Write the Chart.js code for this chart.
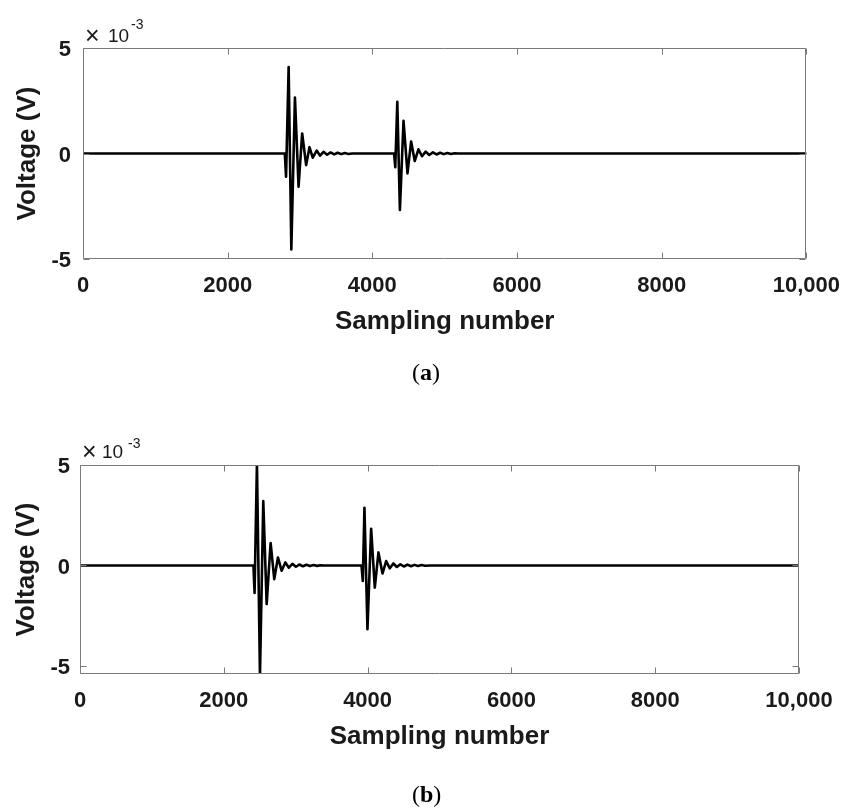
<!DOCTYPE html>
<html>
<head>
<meta charset="utf-8">
<script src="https://cdn.jsdelivr.net/npm/chart.js@4"></script>
<style>
body{margin:0;background:#fff;width:854px;height:808px;position:relative;overflow:hidden}
canvas{position:absolute;left:0}
.t{position:absolute;line-height:1;white-space:nowrap;color:#1a1a1a;font-family:"Liberation Sans",Arial,sans-serif}
.cap{position:absolute;line-height:1;white-space:nowrap;color:#000;font-family:"Liberation Serif","Times New Roman",serif;font-size:24px}
</style>
</head>
<body>
<canvas id="c1" width="854" height="404" style="top:0"></canvas>
<canvas id="c2" width="854" height="404" style="top:404px"></canvas>

<div class="t" style="left:85px;top:23px;font-size:25px">×</div>
<div class="t" style="left:108px;top:26px;font-size:19px">10</div>
<div class="t" style="left:131px;top:17px;font-size:14px">-3</div>
<div class="cap" style="left:412px;top:360px">(<b>a</b>)</div>

<div class="t" style="left:82px;top:439px;font-size:25px">×</div>
<div class="t" style="left:102px;top:442px;font-size:19px">10</div>
<div class="t" style="left:128px;top:436px;font-size:14px">-3</div>
<div class="cap" style="left:412px;top:782px">(<b>b</b>)</div>

<script>
// tick positions / labels
var xTicks = [0, 2000, 4000, 6000, 8000, 10000]
var xTickLabels = ['0', '2000', '4000', '6000', '8000', '10,000']
var yTicks = [-5, 0, 5]
var yTickLabels = ['-5', '0', '5']

// (a) sampling number / voltage (x10^-3 V)
var aX = [0, 2790, 2807, 2843, 2880, 2930, 2980, 3030, 3085, 3131, 3176, 3231, 3276, 3325, 3374, 3423, 3472, 3521, 3570, 3619, 3668, 3720,
  4300, 4317, 4345, 4381, 4431, 4486, 4536, 4586, 4637, 4687, 4737, 4787, 4837, 4887, 4937, 4987, 5037, 5087, 5137, 5190, 10000]
var aY = [0, 0, -1.1, 4.1, -4.55, 2.65, -1.57, 0.95, -0.55, 0.3, -0.2, 0.14, -0.1, 0.08, -0.06, 0.05, -0.04, 0.035, -0.03, 0.025, -0.02, 0,
  0, -0.65, 2.45, -2.68, 1.55, -0.94, 0.57, -0.36, 0.2, -0.13, 0.09, -0.07, 0.055, -0.045, 0.035, -0.03, 0.025, -0.02, 0.015, 0, 0]

// (b)
var bX = [0, 2412, 2428, 2461, 2503, 2549, 2596, 2651, 2702, 2753, 2804, 2856, 2905, 2954, 3003, 3052, 3101, 3150, 3199, 3248, 3297, 3346, 3390,
  3915, 3933, 3956, 3998, 4049, 4100, 4151, 4207, 4258, 4309, 4358, 4407, 4456, 4505, 4554, 4603, 4652, 4701, 4750, 4800, 4875, 10000]
var bY = [0, 0, -1.37, 5.1, -5.5, 3.2, -1.92, 1.12, -0.68, 0.4, -0.26, 0.15, -0.11, 0.08, -0.065, 0.05, -0.04, 0.035, -0.03, 0.025, -0.02, 0.015, 0,
  0, -0.77, 2.87, -3.17, 1.83, -1.1, 0.65, -0.4, 0.22, -0.14, 0.1, -0.075, 0.06, -0.05, 0.04, -0.035, 0.03, -0.025, 0.02, -0.015, 0, 0]

var FONT = '"Liberation Sans", Arial, sans-serif'

// box + inward ticks like matlab
var frame = {
  id: 'frame',
  afterDraw(chart) {
    var ctx = chart.ctx, a = chart.chartArea, x = chart.scales.x, y = chart.scales.y
    var L = Math.round(a.left) + 0.5, R = Math.round(a.right) - 0.5
    var T = Math.round(a.top) + 0.5, B = Math.round(a.bottom) - 0.5
    ctx.save()
    ctx.strokeStyle = '#7b7b7b'
    ctx.lineWidth = 1
    ctx.beginPath()
    xTicks.forEach(v => {
      var p = Math.round(x.getPixelForValue(v)) + 0.5
      ctx.moveTo(p, B); ctx.lineTo(p, B - 6)
      ctx.moveTo(p, T); ctx.lineTo(p, T + 6)
    })
    yTicks.forEach(v => {
      var p = Math.round(y.getPixelForValue(v)) + 0.5
      ctx.moveTo(L, p); ctx.lineTo(L + 6, p)
      ctx.moveTo(R, p); ctx.lineTo(R - 6, p)
    })
    ctx.rect(L, T, R - L, B - T)
    ctx.stroke()
    ctx.restore()
  }
}

function makeChart(id, xs, ys, yMin, lay) {
  var pts = xs.map((v, i) => ({x: v, y: ys[i]}))
  return new Chart(document.getElementById(id), {
    type: 'line',
    data: {
      datasets: [{
        data: pts,
        borderColor: '#000',
        borderWidth: 2.6,
        borderJoinStyle: 'round',
        borderCapStyle: 'round',
        pointRadius: 0,
        tension: 0,
        clip: 0
      }]
    },
    options: {
      responsive: false,
      animation: false,
      layout: {padding: {left: 0, top: lay.top, right: lay.right, bottom: 0}},
      plugins: {legend: {display: false}, tooltip: {enabled: false}},
      scales: {
        x: {
          type: 'linear', min: 0, max: 10000,
          afterBuildTicks: s => { s.ticks = xTicks.map(v => ({value: v})) },
          afterFit: s => { s.height = lay.xh },
          grid: {display: false, drawTicks: false},
          border: {display: false},
          ticks: {
            autoSkip: false, maxRotation: 0, padding: 14, color: '#1a1a1a',
            font: {family: FONT, size: 22, weight: 'bold'},
            callback: (v, i) => xTickLabels[i]
          },
          title: {
            display: true, text: 'Sampling number', color: '#1a1a1a',
            font: {family: FONT, size: 26, weight: 'bold'},
            padding: {top: 0, bottom: lay.xtp}
          }
        },
        y: {
          type: 'linear', min: yMin, max: 5,
          afterBuildTicks: s => { s.ticks = yTicks.map(v => ({value: v})) },
          afterFit: s => { s.width = lay.yw },
          grid: {display: false, drawTicks: false},
          border: {display: false},
          ticks: {
            padding: lay.ytp, color: '#1a1a1a', labelOffset: 2,
            font: {family: FONT, size: 22, weight: 'bold'},
            callback: (v, i) => yTickLabels[i]
          },
          title: {
            display: true, text: 'Voltage (V)', color: '#1a1a1a',
            font: {family: FONT, size: 26, weight: 'bold'},
            padding: {top: lay.ttp, bottom: 0}
          }
        }
      }
    },
    plugins: [frame]
  })
}

makeChart('c1', aX, aY, -5, {top: 48, right: 39, xh: 145, yw: 83, ytp: 12, xtp: 67, ttp: 12})
makeChart('c2', bX, bY, -5.4, {top: 61, right: 55, xh: 134, yw: 80, ytp: 10, xtp: 56, ttp: 11})
</script>
</body>
</html>
